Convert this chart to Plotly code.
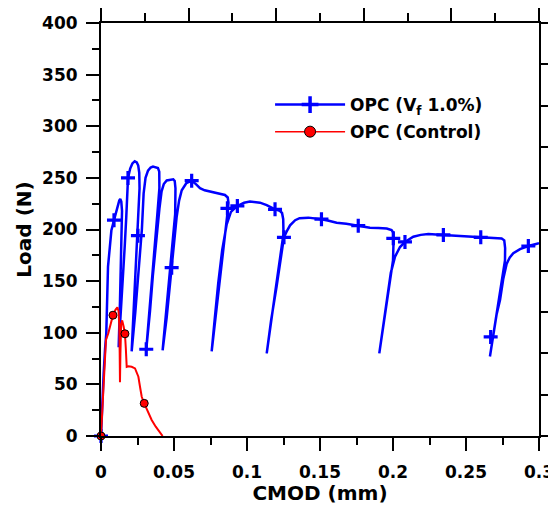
import plotly.graph_objects as go

# ---------------- data ----------------
blue_x = [0, 0.0008, 0.0018, 0.0028, 0.0036, 0.0048, 0.0060, 0.0071, 0.0089, 0.0112,
          0.0125, 0.0132, 0.0139, 0.0144, 0.0140, 0.0130, 0.0121,
          0.0135, 0.0151, 0.0163, 0.0173, 0.0185, 0.0200, 0.0215, 0.0231, 0.0245,
          0.0255, 0.0262, 0.0264, 0.0247, 0.0230, 0.0210,
          0.0235, 0.0260, 0.0280, 0.0292, 0.0305, 0.0322, 0.0340, 0.0356, 0.0375,
          0.0390, 0.0399, 0.0400, 0.0386, 0.0350, 0.0310,
          0.0335, 0.0355, 0.0380, 0.0400, 0.0415, 0.0430, 0.0450, 0.0475, 0.0495,
          0.0505, 0.0510, 0.0508, 0.0472, 0.0422,
          0.0450, 0.0473, 0.0496, 0.0518, 0.0535, 0.0553, 0.0585, 0.0621, 0.0650,
          0.0678, 0.0710, 0.0747, 0.0800, 0.0849, 0.0868, 0.0873, 0.0868, 0.0821, 0.0758,
          0.0780, 0.0803, 0.0830, 0.0861, 0.0890, 0.0934, 0.0980, 0.1020, 0.1089,
          0.1135, 0.1192, 0.1225, 0.1240, 0.1248, 0.1250, 0.1194, 0.1135,
          0.1165, 0.1203, 0.1230, 0.1253, 0.1275, 0.1295, 0.1330, 0.1360, 0.1420,
          0.1455, 0.1510, 0.1560, 0.1614, 0.1680, 0.1762, 0.1842, 0.1900, 0.1957,
          0.1990, 0.2002, 0.2004, 0.2000, 0.1953, 0.1906,
          0.1930, 0.1957, 0.1985, 0.2014, 0.2048, 0.2082, 0.2139, 0.2190, 0.2242,
          0.2345, 0.2430, 0.2527, 0.2601, 0.2680, 0.2744, 0.2762, 0.2768, 0.2767,
          0.2712, 0.2664,
          0.2690, 0.2710, 0.2733, 0.2755, 0.2779, 0.2800, 0.2824, 0.2870, 0.2927,
          0.2960, 0.3000]
blue_y = [0, 30, 60, 85, 99, 164, 186, 199, 209, 222,
          228, 229.5, 227, 218, 180, 130, 86,
          118, 148, 185, 212, 250, 259, 264, 266, 265,
          262, 255, 240, 190, 135, 82,
          120, 160, 200, 235, 250, 257, 260, 261, 260.5,
          259.5, 256, 240, 215, 150, 84,
          120, 155, 195, 220, 237, 244, 247.5, 248.5, 248.6,
          247, 240, 215, 160, 83,
          115, 148, 180, 212, 228, 238, 245, 247.3, 244,
          240, 238, 236.6, 235, 233.4, 231, 226, 218, 160, 82,
          115, 148, 180, 205, 217, 222.8, 226, 227, 226,
          223.7, 219.5, 218, 216, 210, 196, 140, 80,
          112, 145, 172, 192.4, 199, 204, 209, 211, 211.5,
          211, 210, 208.5, 206.6, 205.5, 203.7, 201.8, 201.5, 201,
          199.5, 197, 190, 170, 125, 80,
          105, 131.7, 158, 173.7, 183, 188, 193, 194.8, 195.6,
          194.7, 194, 193, 192.4, 192, 191.4, 189.5, 182, 170,
          120, 77,
          100, 118, 131.7, 152, 167, 173, 177, 181, 184,
          185.5, 186.8]

blue_marker_x = [0, 0.0089, 0.0185, 0.0253, 0.0310, 0.0484, 0.0621, 0.0866, 0.0934,
                 0.1192, 0.1253, 0.1510, 0.1762, 0.2002, 0.2082, 0.2345, 0.2601,
                 0.2669, 0.2927]
blue_marker_y = [0, 209, 250, 194, 84, 163, 247.3, 220.5, 222.8,
                 219.5, 192.4, 210, 203.7, 191.5, 188, 194.7, 192.4,
                 96, 184]

red_x = [0, 0.0008, 0.0016, 0.0026, 0.0034, 0.0050, 0.0065, 0.0082, 0.0098, 0.0112,
         0.0120, 0.0125, 0.0128, 0.0130, 0.0133, 0.0138, 0.0145, 0.0155, 0.0164,
         0.0170, 0.0176, 0.0188, 0.0210, 0.0233, 0.0245, 0.0256, 0.0268, 0.0279,
         0.0296, 0.0320, 0.0347, 0.0375, 0.0400, 0.0422]
red_y = [0, 22, 44, 75, 93, 99.5, 107, 117, 122, 124.6,
         121, 108, 80, 52, 80, 108, 112, 106, 99,
         85, 67, 67.5, 67, 65.5, 62, 57.4, 47, 38,
         31.6, 24, 15.5, 9, 4, 0]

red_marker_x = [0, 0.0082, 0.0164, 0.0296]
red_marker_y = [0, 117, 99, 31.6]

series_names = ["OPC (V<sub>f</sub> 1.0%)", "OPC (Control)"]

x_ticks = [0, 0.05, 0.1, 0.15, 0.2, 0.25, 0.3]
x_tick_labels = ["0", "0.05", "0.1", "0.15", "0.2", "0.25", "0.3"]
x_minor_ticks = [0.025, 0.075, 0.125, 0.175, 0.225, 0.275]
y_ticks = [0, 50, 100, 150, 200, 250, 300, 350, 400]
y_tick_labels = ["0", "50", "100", "150", "200", "250", "300", "350", "400"]
y_minor_ticks = [25, 75, 125, 175, 225, 275, 325, 375]
top_ticks = [0, 0.06, 0.12, 0.18, 0.24, 0.3]
top_minor_ticks = [0.03, 0.09, 0.15, 0.21, 0.27]
right_ticks = [0, 40, 80, 120, 160, 200, 240, 280, 320, 360, 400]

# ---------------- styling ----------------
FONT = "DejaVu Sans"
BLUE = "#0000FF"
RED = "#FF0000"

fig = go.Figure()

# legend entries
fig.add_trace(go.Scatter(
    x=[None], y=[None], mode="lines+markers", name=series_names[0], legendgroup="a",
    line=dict(color=BLUE, width=2.5),
    marker=dict(symbol="cross-thin", size=12, color=BLUE, line=dict(color=BLUE, width=3.5))))
fig.add_trace(go.Scatter(
    x=[None], y=[None], mode="lines+markers", name=series_names[1], legendgroup="b",
    line=dict(color=RED, width=1.5),
    marker=dict(symbol="circle", size=11, color=RED, line=dict(color="black", width=1))))

# blue curve
fig.add_trace(go.Scatter(
    x=blue_x, y=blue_y, mode="lines", showlegend=False, hoverinfo="skip",
    line=dict(color=BLUE, width=2.5)))
fig.add_trace(go.Scatter(
    x=blue_marker_x, y=blue_marker_y, mode="markers", showlegend=False, cliponaxis=False,
    marker=dict(symbol="cross-thin", size=10, color=BLUE, line=dict(color=BLUE, width=3.2))))

# red curve
fig.add_trace(go.Scatter(
    x=red_x, y=red_y, mode="lines", showlegend=False, hoverinfo="skip",
    line=dict(color=RED, width=2)))
fig.add_trace(go.Scatter(
    x=red_marker_x, y=red_marker_y, mode="markers", showlegend=False, cliponaxis=False,
    marker=dict(symbol="circle", size=8, color=RED, line=dict(color="black", width=1))))

# invisible helpers so the top and right frame axes get drawn
fig.add_trace(go.Scatter(x=[0], y=[0], xaxis="x2", yaxis="y", mode="markers",
                         marker=dict(opacity=0), showlegend=False, hoverinfo="skip"))
fig.add_trace(go.Scatter(x=[0], y=[0], xaxis="x", yaxis="y2", mode="markers",
                         marker=dict(opacity=0), showlegend=False, hoverinfo="skip"))

axis_common = dict(
    showline=True, linecolor="black", linewidth=2,
    showgrid=False, zeroline=False,
    ticks="outside", tickcolor="black", tickwidth=2,
)

# the page body has an 8px margin, so the figure is 8px smaller than the window
fig.update_layout(
    width=548, height=497,
    margin=dict(l=93, r=17, t=15, b=69, autoexpand=False),
    paper_bgcolor="white", plot_bgcolor="white",
    font=dict(family=FONT, size=17, color="black"),
    xaxis=dict(
        **axis_common, range=[0, 0.3], tickmode="array", tickvals=x_ticks, ticktext=x_tick_labels,
        ticklen=13, ticklabelstandoff=7,
        minor=dict(tickmode="array", tickvals=x_minor_ticks, ticks="outside", ticklen=7,
                   tickwidth=2, tickcolor="black"),
        title=dict(text="<b>CMOD (mm)</b>", font=dict(family=FONT, size=20), standoff=3),
        tickfont=dict(family=FONT, size=17, weight="bold"),
    ),
    yaxis=dict(
        **axis_common, range=[0, 400], tickmode="array", tickvals=y_ticks, ticktext=y_tick_labels,
        ticklen=13, ticklabelstandoff=5,
        minor=dict(tickmode="array", tickvals=y_minor_ticks, ticks="outside", ticklen=7,
                   tickwidth=2, tickcolor="black"),
        title=dict(text="<b>Load (N)</b>", font=dict(family=FONT, size=20), standoff=5),
        tickfont=dict(family=FONT, size=17, weight="bold"),
    ),
    xaxis2=dict(
        **axis_common, range=[0, 0.3], overlaying="x", side="top", anchor="y",
        tickmode="array", tickvals=top_ticks, ticklen=14, showticklabels=False,
        minor=dict(tickmode="array", tickvals=top_minor_ticks, ticks="outside", ticklen=8,
                   tickwidth=2, tickcolor="black"),
    ),
    yaxis2=dict(
        **axis_common, range=[0, 400], overlaying="y", side="right", anchor="x",
        tickmode="array", tickvals=right_ticks, ticklen=14, showticklabels=False,
    ),
    legend=dict(
        x=0.386, y=0.845, xanchor="left", yanchor="top",
        bgcolor="rgba(0,0,0,0)", itemwidth=70,
        traceorder="grouped", tracegroupgap=2,
        font=dict(family=FONT, size=17, color="black", weight="bold"),
    ),
    showlegend=True,
)

fig.write_html("out.html")
